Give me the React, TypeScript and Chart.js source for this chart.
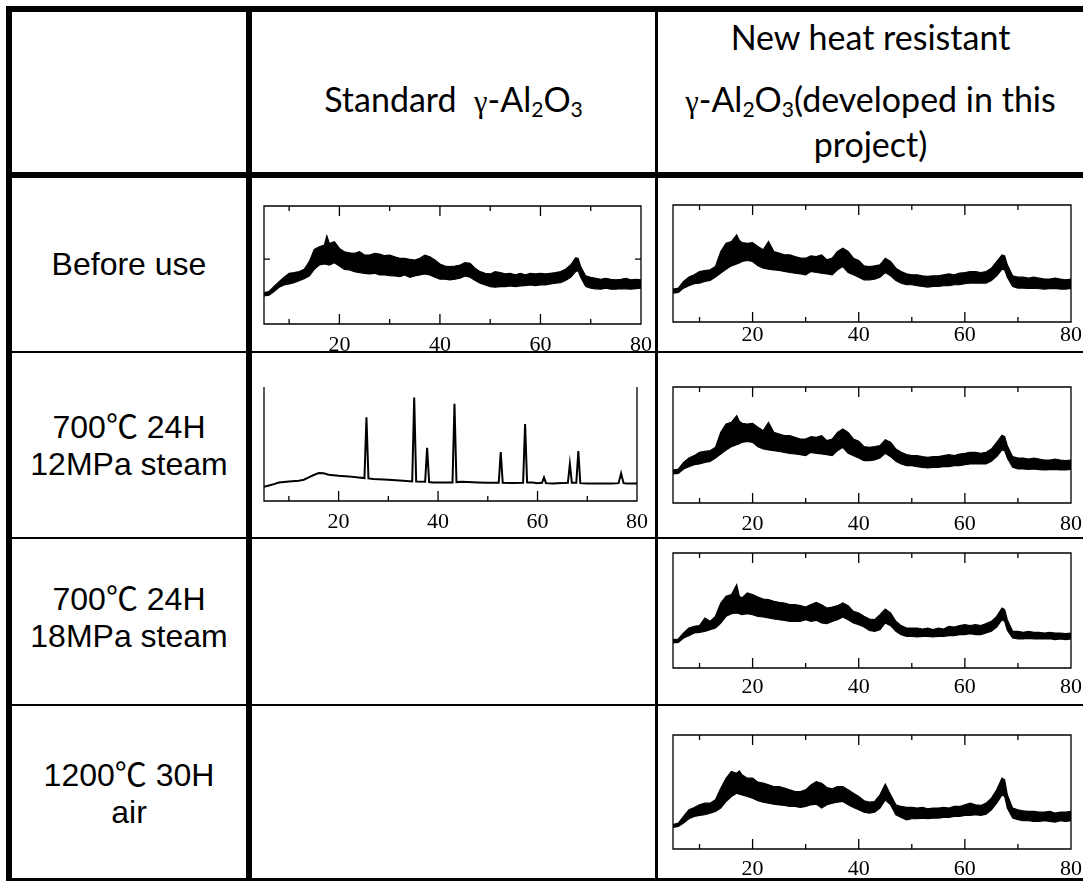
import React, { useEffect, useRef } from 'react';
import { Chart, registerables } from 'chart.js';

Chart.register(...registerables);

// ---------- data ----------
const X_GRID = [
  5, 6, 7, 8, 9, 10, 11, 12, 13, 14,
  15, 16, 17, 17.5, 18, 19, 20, 21, 22, 23,
  24, 25, 26, 27, 28, 29, 30, 31, 32, 33,
  34, 35, 36, 37, 38, 39, 40, 41, 42, 43,
  44, 45, 46, 47, 48, 49, 50, 51, 52, 53,
  54, 55, 56, 57, 58, 59, 60, 61, 62, 63,
  64, 65, 66, 67, 67.5, 68, 69, 70, 71, 72,
  73, 74, 75, 76, 77, 78, 79, 80,
];
const X_LABELS = [20, 40, 60, 80];
const MAJOR_TICKS = [20, 40, 60];
const MINOR_TICKS = [10, 30, 50, 70];

const STD_BEFORE_UPPER = [
  95, 98, 113, 128, 141, 153, 155, 158, 165, 188,
  225, 233, 238, 266, 243, 248, 228, 218, 215, 213,
  218, 208, 208, 213, 211, 206, 208, 203, 198, 198,
  195, 193, 198, 208, 203, 193, 181, 175, 173, 175,
  178, 185, 183, 168, 158, 153, 151, 158, 155, 151,
  153, 148, 153, 148, 153, 151, 153, 151, 153, 155,
  158, 165, 178, 200, 198, 173, 145, 141, 138, 135,
  138, 135, 133, 135, 138, 133, 135, 133,
];
const STD_BEFORE_LOWER = [
  85, 87, 98, 111, 118, 121, 125, 131, 137, 145,
  165, 178, 181, 180, 178, 185, 175, 165, 163, 158,
  155, 153, 151, 153, 148, 148, 146, 145, 143, 148,
  141, 145, 148, 151, 148, 141, 135, 135, 133, 135,
  138, 145, 141, 131, 123, 118, 113, 111, 113, 113,
  115, 113, 115, 116, 118, 116, 118, 118, 121, 123,
  125, 131, 141, 158, 161, 141, 113, 108, 106, 105,
  108, 105, 105, 107, 106, 105, 107, 108,
];
const STD_BEFORE_YTICKS = [196];

const NEW_BEFORE_UPPER = [
  99, 102, 122, 135, 142, 152, 155, 157, 167, 212,
  237, 242, 262, 245, 239, 237, 239, 227, 217, 242,
  212, 207, 202, 202, 197, 192, 192, 199, 197, 202,
  187, 192, 212, 222, 212, 192, 185, 169, 167, 169,
  172, 192, 182, 162, 152, 145, 142, 142, 139, 137,
  139, 139, 142, 145, 142, 147, 149, 152, 152, 149,
  152, 162, 182, 202, 199, 172, 139, 135, 135, 132,
  135, 132, 129, 129, 132, 129, 127, 129,
];
const NEW_BEFORE_LOWER = [
  87, 89, 102, 109, 115, 117, 122, 125, 135, 147,
  159, 169, 175, 178, 182, 185, 182, 169, 162, 159,
  157, 155, 152, 149, 147, 145, 142, 152, 149, 147,
  145, 142, 157, 167, 149, 142, 135, 127, 127, 129,
  135, 149, 139, 125, 117, 112, 112, 109, 107, 105,
  107, 107, 109, 109, 112, 112, 115, 117, 117, 117,
  117, 125, 139, 159, 157, 135, 107, 102, 102, 101,
  102, 100, 99, 100, 101, 99, 99, 101,
];

const STD_12_X = [
  5, 6, 7, 8, 10, 12, 13, 14, 15, 16,
  17, 18, 20, 22, 24, 25.2, 25.6, 26.0, 27, 30,
  33, 34.8, 35.2, 35.6, 37.4, 37.8, 38.2, 39, 42, 42.9,
  43.3, 43.7, 45, 48, 50, 52.2, 52.6, 53.0, 55, 57.1,
  57.5, 57.9, 59, 60, 60.9, 61.3, 61.7, 63, 65, 66.1,
  66.5, 66.9, 67.8, 68.2, 68.6, 70, 73, 75, 76.3, 76.8,
  77.3, 78, 80,
];
const STD_12_Y = [
  42, 46, 50, 55, 58, 60, 63, 70, 77, 83,
  82, 78, 75, 73, 70, 68, 248, 67, 65, 63,
  60, 58, 307, 58, 57, 158, 56, 55, 55, 55,
  288, 56, 57, 55, 54, 54, 145, 54, 53, 54,
  228, 55, 55, 53, 54, 70, 53, 52, 53, 54,
  110, 54, 54, 148, 53, 52, 52, 52, 53, 82,
  53, 52, 52,
];

const NEW_12_UPPER = [
  99, 102, 122, 135, 142, 152, 155, 157, 167, 212,
  237, 242, 262, 245, 239, 237, 239, 227, 217, 242,
  212, 207, 202, 202, 197, 192, 192, 199, 197, 202,
  187, 192, 212, 222, 212, 192, 185, 169, 167, 169,
  172, 190, 182, 162, 152, 145, 142, 142, 139, 137,
  139, 139, 142, 145, 142, 147, 149, 152, 152, 149,
  152, 162, 182, 203, 199, 172, 139, 135, 135, 132,
  135, 132, 129, 129, 132, 129, 127, 129,
];
const NEW_12_LOWER = [
  87, 89, 102, 109, 115, 117, 122, 125, 135, 147,
  159, 169, 175, 178, 182, 185, 182, 169, 162, 159,
  157, 155, 152, 149, 147, 145, 142, 152, 149, 147,
  145, 142, 157, 167, 149, 142, 135, 127, 127, 129,
  135, 149, 139, 125, 117, 112, 112, 109, 107, 105,
  107, 107, 109, 109, 112, 112, 115, 117, 117, 117,
  117, 125, 139, 159, 157, 135, 107, 102, 102, 101,
  102, 100, 99, 100, 101, 99, 99, 101,
];

const NEW_18_UPPER = [
  85, 87, 105, 120, 125, 127, 150, 140, 155, 195,
  215, 220, 250, 215, 210, 225, 220, 213, 207, 205,
  200, 197, 195, 190, 190, 187, 183, 190, 197, 190,
  180, 183, 187, 195, 187, 170, 165, 155, 147, 145,
  160, 177, 165, 140, 127, 120, 120, 120, 117, 120,
  115, 120, 117, 125, 123, 127, 130, 127, 130, 127,
  133, 140, 155, 180, 175, 145, 110, 110, 107, 110,
  107, 107, 105, 107, 105, 105, 103, 105,
];
const NEW_18_LOWER = [
  75, 77, 90, 97, 105, 107, 110, 115, 120, 135,
  155, 163, 165, 163, 160, 163, 160, 155, 153, 150,
  147, 145, 143, 140, 140, 140, 145, 140, 143, 135,
  133, 140, 145, 153, 145, 135, 130, 123, 113, 110,
  115, 135, 127, 110, 100, 95, 95, 93, 95, 95,
  93, 95, 95, 97, 97, 100, 100, 103, 100, 100,
  105, 110, 123, 145, 140, 113, 90, 87, 87, 89,
  87, 87, 87, 88, 85, 87, 85, 87,
];

const NEW_1200_UPPER = [
  73, 78, 98, 118, 125, 133, 138, 138, 148, 183,
  213, 233, 228, 235, 223, 213, 213, 201, 198, 193,
  188, 188, 183, 178, 173, 173, 178, 193, 203, 198,
  185, 181, 188, 188, 178, 168, 158, 145, 141, 143,
  163, 195, 163, 133, 128, 125, 125, 123, 125, 121,
  123, 123, 125, 123, 128, 128, 133, 138, 133, 131,
  138, 153, 178, 213, 208, 163, 123, 118, 115, 113,
  113, 111, 111, 113, 108, 111, 111, 113,
];
const NEW_1200_LOWER = [
  65, 68, 78, 91, 98, 101, 103, 108, 113, 123,
  143, 158, 168, 165, 163, 158, 153, 145, 141, 138,
  135, 133, 131, 128, 128, 125, 128, 133, 135, 123,
  133, 138, 141, 143, 133, 125, 118, 111, 108, 111,
  123, 148, 133, 103, 95, 88, 91, 91, 93, 91,
  93, 93, 95, 95, 98, 98, 101, 101, 103, 101,
  105, 118, 138, 163, 158, 123, 93, 88, 85, 85,
  83, 83, 85, 83, 81, 85, 83, 85,
];

// ---------- helpers ----------
type Spec = {
  L: number; T: number; R: number; B: number;
  yMax: number; open?: boolean; yTicks?: number[]; labelPad: number;
  datasets: any[];
};

function band(upper: number[], lower: number[]) {
  return [
    { data: X_GRID.map((x, i) => ({ x, y: upper[i] })), borderColor: '#000', borderWidth: 1.2, pointRadius: 0, fill: false, tension: 0 },
    { data: X_GRID.map((x, i) => ({ x, y: lower[i] })), borderColor: '#000', borderWidth: 1.2, pointRadius: 0, fill: '-1', backgroundColor: '#000', tension: 0 },
  ];
}
function single(xs: number[], ys: number[]) {
  return [{ data: xs.map((x, i) => ({ x, y: ys[i] })), borderColor: '#000', borderWidth: 2, pointRadius: 0, fill: false, tension: 0 }];
}

const PAD_L = 14, PAD_R = 32, PAD_T = 4, AXIS_H = 40;

function XrdPlot({ spec }: { spec: Spec }) {
  const ref = useRef<HTMLCanvasElement>(null);
  const L = Math.round(spec.L), R = Math.round(spec.R), T = Math.round(spec.T), B = Math.round(spec.B);
  const W = R - L + PAD_L + PAD_R;
  const H = B - T + PAD_T + AXIS_H;
  useEffect(() => {
    const framePlugin = {
      id: 'xrdFrame',
      afterDraw(chart: any) {
        const { ctx, chartArea: a, scales } = chart;
        const xs = scales.x, ys = scales.y;
        ctx.save();
        ctx.strokeStyle = '#000';
        ctx.lineWidth = 1.3;
        ctx.beginPath();
        if (spec.open) {
          ctx.moveTo(a.left, a.top); ctx.lineTo(a.left, a.bottom);
          ctx.lineTo(a.right, a.bottom); ctx.lineTo(a.right, a.top);
        } else {
          ctx.rect(a.left, a.top, a.right - a.left, a.bottom - a.top);
        }
        const tick = (v: number, len: number) => {
          const px = xs.getPixelForValue(v);
          ctx.moveTo(px, a.bottom); ctx.lineTo(px, a.bottom - len);
          if (!spec.open) { ctx.moveTo(px, a.top); ctx.lineTo(px, a.top + len); }
        };
        MAJOR_TICKS.forEach((v) => tick(v, 10));
        MINOR_TICKS.forEach((v) => tick(v, 5));
        (spec.yTicks || []).forEach((v) => {
          const py = ys.getPixelForValue(v);
          ctx.moveTo(a.left, py); ctx.lineTo(a.left + 6, py);
          ctx.moveTo(a.right, py); ctx.lineTo(a.right - 6, py);
        });
        ctx.stroke();
        ctx.restore();
      },
    };
    const chart = new Chart(ref.current as HTMLCanvasElement, {
      type: 'line',
      data: { datasets: spec.datasets },
      options: {
        animation: false,
        responsive: false,
        devicePixelRatio: 1,
        layout: { padding: { left: PAD_L, right: PAD_R, top: PAD_T, bottom: 0 } },
        plugins: { legend: { display: false }, tooltip: { enabled: false } },
        scales: {
          x: {
            type: 'linear', min: 5, max: 80,
            grid: { display: false, drawTicks: false },
            border: { display: false },
            afterFit: (s: any) => { s.height = AXIS_H; },
            afterBuildTicks: (s: any) => { s.ticks = X_LABELS.map((v) => ({ value: v })); },
            ticks: {
              autoSkip: false, maxRotation: 0, color: '#000', padding: spec.labelPad,
              font: { family: '"Liberation Serif", "Times New Roman", serif', size: 22 },
            },
          },
          y: { type: 'linear', min: 0, max: spec.yMax, display: false },
        },
      } as any,
      plugins: [framePlugin],
    });
    return () => chart.destroy();
  }, []);
  return (
    <canvas
      ref={ref}
      width={W}
      height={H}
      style={{ position: 'absolute', left: L - PAD_L, top: T - PAD_T, width: W, height: H, display: 'block' }}
    />
  );
}

const PLOTS: Spec[] = [
  { L: 264, T: 206, R: 641, B: 324, yMax: 356, yTicks: STD_BEFORE_YTICKS, labelPad: 8, datasets: band(STD_BEFORE_UPPER, STD_BEFORE_LOWER) },
  { L: 673, T: 205, R: 1071, B: 322, yMax: 352, labelPad: 0, datasets: band(NEW_BEFORE_UPPER, NEW_BEFORE_LOWER) },
  { L: 264, T: 387, R: 637, B: 501, yMax: 338, open: true, labelPad: 8, datasets: single(STD_12_X, STD_12_Y) },
  { L: 673, T: 387, R: 1071, B: 503, yMax: 348, labelPad: 8, datasets: band(NEW_12_UPPER, NEW_12_LOWER) },
  { L: 673, T: 553, R: 1071, B: 668, yMax: 345, labelPad: 6, datasets: band(NEW_18_UPPER, NEW_18_LOWER) },
  { L: 673, T: 735, R: 1071, B: 849, yMax: 343, labelPad: 7, datasets: band(NEW_1200_UPPER, NEW_1200_LOWER) },
];

const line = (left: number, top: number, width: number, height: number) => (
  <div style={{ position: 'absolute', left, top, width, height, background: '#000' }} />
);

const HDR_FONT = 'Lato, "Open Sans", "Noto Sans", sans-serif';
const ROW_FONT = '"Liberation Sans", Arial, "Noto Sans CJK JP", sans-serif';
const hdr: React.CSSProperties = {
  position: 'absolute', textAlign: 'center', fontFamily: HDR_FONT, fontSize: 34, lineHeight: '34px',
  whiteSpace: 'pre', color: '#000',
};
const rowLbl: React.CSSProperties = {
  position: 'absolute', left: 12, width: 234, textAlign: 'center', fontFamily: ROW_FONT, fontSize: 32,
  lineHeight: '37px', color: '#000',
};
const gamma: React.CSSProperties = { fontFamily: '"Liberation Serif", serif', fontSize: '0.9em' };
const sub: React.CSSProperties = { fontSize: '0.62em', position: 'relative', top: '0.25em' };

export default function App() {
  return (
    <div style={{ position: 'absolute', left: 0, top: 0, width: 1083, height: 881, overflow: 'hidden', background: '#fff' }}>
      {PLOTS.map((p, i) => <XrdPlot key={i} spec={p} />)}

      {/* header texts */}
      <div style={{ ...hdr, left: 252, width: 403, top: 82 }}>
        Standard{'  '}<span style={gamma}>γ</span>-Al<span style={sub}>2</span>O<span style={sub}>3</span>
      </div>
      <div style={{ ...hdr, left: 658, width: 425, top: 20 }}>New heat resistant</div>
      <div style={{ ...hdr, left: 658, width: 425, top: 82 }}>
        <span style={gamma}>γ</span>-Al<span style={sub}>2</span>O<span style={sub}>3</span>(developed in this
      </div>
      <div style={{ ...hdr, left: 658, width: 425, top: 127 }}>project)</div>

      {/* row labels */}
      <div style={{ ...rowLbl, top: 246 }}>Before use</div>
      <div style={{ ...rowLbl, top: 409 }}>700℃ 24H<br />12MPa steam</div>
      <div style={{ ...rowLbl, top: 581 }}>700℃ 24H<br />18MPa steam</div>
      <div style={{ ...rowLbl, top: 757 }}>1200℃ 30H<br />air</div>

      {/* table lines */}
      {line(6, 6, 1077, 6)}
      {line(6, 172, 1077, 6)}
      {line(6, 351, 1077, 2)}
      {line(6, 537, 1077, 2)}
      {line(6, 704, 1077, 2)}
      {line(6, 878, 1077, 3)}
      {line(6, 6, 6, 875)}
      {line(246, 6, 6, 875)}
      {line(655, 6, 3, 875)}
    </div>
  );
}
